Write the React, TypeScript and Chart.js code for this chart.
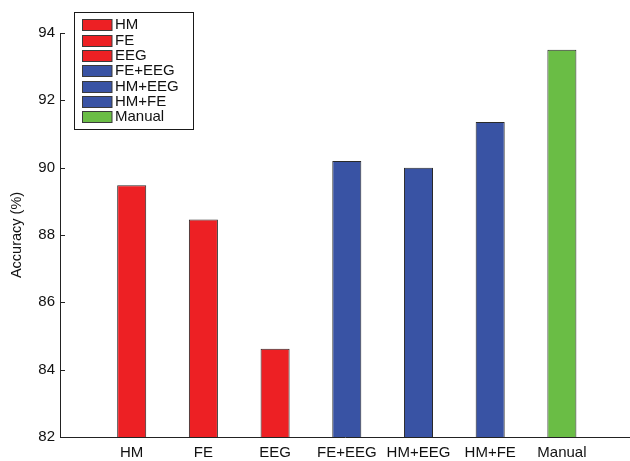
import React, { useEffect, useRef } from "react";
import { Chart, registerables } from "chart.js";

Chart.register(...registerables);

const categories = ["HM", "FE", "EEG", "FE+EEG", "HM+EEG", "HM+FE", "Manual"];
const accuracy = [89.48, 88.46, 84.62, 90.2, 90.0, 91.36, 93.5];
const barColors = ["#ED2024", "#ED2024", "#ED2024", "#3953A4", "#3953A4", "#3953A4", "#6ABD45"];
const yTicks = [82, 84, 86, 88, 90, 92, 94];

const FONT = "'Liberation Sans', Arial, Helvetica, sans-serif";
const INK = "#111111";

const overlayPlugin = {
  id: "overlay",
  afterDraw(chart: any) {
    const { ctx, chartArea, scales } = chart;
    const y = scales.y;
    ctx.save();
    ctx.strokeStyle = "#222";
    ctx.lineWidth = 1;
    // inward tick marks on the y axis
    yTicks.forEach((v) => {
      const py = Math.round(y.getPixelForValue(v)) + 0.5;
      ctx.beginPath();
      ctx.moveTo(chartArea.left, py);
      ctx.lineTo(chartArea.left + 5, py);
      ctx.stroke();
    });
    // legend
    const bx = chartArea.left + 14.5;
    const by = 12.5;
    const bw = 119;
    const bh = 117;
    ctx.fillStyle = "#ffffff";
    ctx.fillRect(bx, by, bw, bh);
    ctx.strokeStyle = "#1a1a1a";
    ctx.strokeRect(bx, by, bw, bh);
    ctx.font = `15px ${FONT}`;
    ctx.textBaseline = "middle";
    ctx.textAlign = "left";
    categories.forEach((label, i) => {
      const cy = by + 12.2 + i * 15.33;
      ctx.fillStyle = barColors[i];
      ctx.fillRect(bx + 8, Math.round(cy - 5.5) + 0.5, 29.5, 11);
      ctx.strokeStyle = "#3a3a3a";
      ctx.strokeRect(bx + 8, Math.round(cy - 5.5) + 0.5, 29.5, 11);
      ctx.fillStyle = INK;
      ctx.fillText(label, bx + 40.5, cy + 0.5);
    });
    ctx.restore();
  },
};

export default function App() {
  const ref = useRef<HTMLCanvasElement | null>(null);

  useEffect(() => {
    if (!ref.current) return;
    const chart = new Chart(ref.current, {
      type: "bar",
      data: {
        datasets: [
          {
            label: "Accuracy",
            data: accuracy.map((v, i) => ({ x: i + 1, y: v })),
            backgroundColor: barColors,
            borderColor: "#2a2a2a",
            borderWidth: 1,
            categoryPercentage: 1,
            barPercentage: 0.405,
          },
        ],
      },
      options: {
        responsive: false,
        animation: false,
        layout: { padding: { top: 33, right: 0, bottom: 0, left: 0 } },
        plugins: {
          legend: { display: false },
          tooltip: { enabled: false },
        },
        scales: {
          x: {
            type: "linear",
            min: 0,
            max: 7.95,
            offset: false,
            grid: { display: false, drawTicks: false },
            border: { display: true, color: "#222", width: 1 },
            afterBuildTicks: (scale: any) => {
              scale.ticks = categories.map((_, i) => ({ value: i + 1 }));
            },
            afterFit: (scale: any) => {
              scale.height = 24;
            },
            ticks: {
              autoSkip: false,
              maxRotation: 0,
              padding: 7,
              color: INK,
              font: { family: FONT, size: 15 },
              callback: (v: any) => categories[Math.round(Number(v)) - 1] ?? "",
            },
          },
          y: {
            min: 82,
            max: 94,
            grid: { display: false, drawTicks: false },
            border: { display: true, color: "#222", width: 1 },
            afterBuildTicks: (scale: any) => {
              scale.ticks = yTicks.map((v) => ({ value: v }));
            },
            afterFit: (scale: any) => {
              scale.width = 60;
            },
            ticks: {
              padding: 5,
              color: INK,
              font: { family: FONT, size: 15 },
            },
            title: {
              display: true,
              text: "Accuracy (%)",
              color: INK,
              font: { family: FONT, size: 14.5 },
              padding: { top: 8, bottom: 0 },
            },
          },
        },
      },
      plugins: [overlayPlugin],
    });
    return () => chart.destroy();
  }, []);

  return (
    <div style={{ position: "absolute", left: 0, top: 0, width: 630, height: 461, overflow: "hidden", background: "#fff" }}>
      <canvas ref={ref} width={630} height={461} style={{ display: "block" }} />
    </div>
  );
}
